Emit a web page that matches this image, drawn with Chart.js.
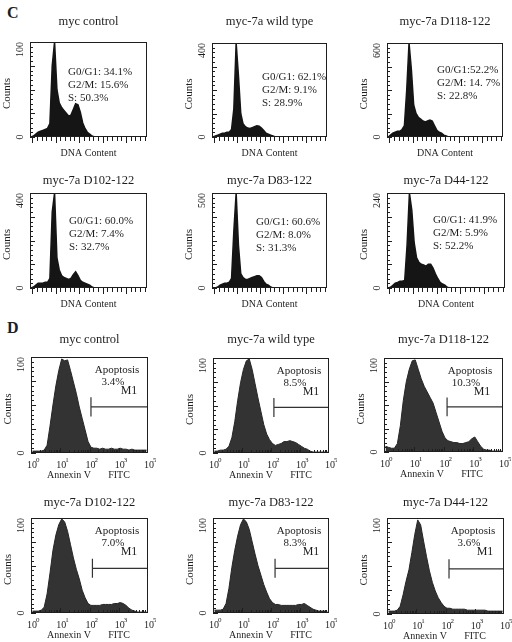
<!DOCTYPE html>
<html>
<head>
<meta charset="utf-8">
<script src="https://cdn.jsdelivr.net/npm/chart.js@4/dist/chart.umd.min.js"></script>
<style>
  body { margin: 0; background: #fff; }
  .figure { position: relative; width: 512px; height: 642px; overflow: hidden; font-family: "Liberation Serif", serif; color: #1e1e1e; }
  .panelLetter { position: absolute; font-weight: bold; font-size: 16px; line-height: 16px; }
  canvas { position: absolute; }
</style>
</head>
<body>
<div class="figure">
  <div class="panelLetter" style="left:7px;top:5px">C</div>
  <div class="panelLetter" style="left:7px;top:320px">D</div>
</div>
<script>
// panel C - cell cycle
const cycleTitles = ["myc control", "myc-7a wild type", "myc-7a D118-122", "myc-7a D102-122", "myc-7a D83-122", "myc-7a D44-122"]
const cycleYMax = [100, 400, 600, 400, 500, 240]
const cycleG1 = ["G0/G1: 34.1%", "G0/G1: 62.1%", "G0/G1:52.2%", "G0/G1: 60.0%", "G0/G1: 60.6%", "G0/G1: 41.9%"]
const cycleG2 = ["G2/M: 15.6%", "G2/M: 9.1%", "G2/M: 14. 7%", "G2/M: 7.4%", "G2/M: 8.0%", "G2/M: 5.9%"]
const cycleS = ["S: 50.3%", "S: 28.9%", "S: 22.8%", "S: 32.7%", "S: 31.3%", "S: 52.2%"]
const dnaBins = 50
// counts per DNA channel bin
const dnaCounts = [
  [0, 1, 3, 5, 6, 7, 8, 9, 14, 75, 100, 50, 36, 31, 28, 25, 22, 23, 29, 35, 34, 26, 15, 9, 5, 3, 1, 0],
  [0, 4, 8, 12, 16, 16, 20, 20, 32, 120, 400, 260, 100, 56, 44, 38, 36, 40, 44, 48, 46, 38, 28, 16, 12, 8, 4, 0],
  [0, 12, 24, 30, 36, 36, 48, 72, 300, 600, 432, 204, 150, 126, 114, 102, 96, 102, 108, 102, 72, 42, 30, 24, 12, 6, 0],
  [0, 4, 12, 20, 20, 20, 24, 24, 40, 320, 400, 128, 76, 52, 44, 40, 36, 40, 56, 68, 52, 32, 24, 20, 16, 12, 4, 0],
  [0, 0, 5, 15, 20, 25, 25, 30, 50, 300, 500, 225, 75, 55, 45, 45, 50, 55, 60, 65, 65, 55, 35, 20, 15, 5, 0],
  [0, 2, 7, 12, 14, 17, 17, 19, 108, 240, 197, 115, 77, 65, 60, 58, 55, 60, 60, 50, 36, 24, 14, 10, 7, 2, 0],
]

// panel D - annexin V
const apoTitles = ["myc control", "myc-7a wild type", "myc-7a D118-122", "myc-7a D102-122", "myc-7a D83-122", "myc-7a D44-122"]
const apoPct = ["3.4%", "8.5%", "10.3%", "7.0%", "8.3%", "3.6%"]
const m1Start = [2.05, 2.1, 2.12, 2.1, 2.14, 2.12]
const m1Level = [48, 48, 48, 47, 47, 47]
const decadeExp = ["0", "1", "2", "3", "5"]
// counts per 0.1 decade bin
const annexinCounts = [
  [2, 2, 2, 2, 3, 8, 28, 50, 70, 86, 98, 96, 97, 86, 74, 62, 48, 36, 24, 12, 6, 5, 5, 4, 5, 4, 4, 5, 4, 4, 5, 4, 4, 3, 4, 3, 3, 3, 3, 3],
  [2, 2, 3, 3, 4, 7, 16, 33, 55, 74, 88, 97, 99, 88, 73, 58, 44, 30, 20, 14, 10, 8, 9, 10, 12, 12, 13, 12, 11, 9, 7, 5, 4, 2, 1, 1, 1, 1, 1, 1],
  [6, 5, 4, 4, 9, 28, 55, 75, 88, 97, 98, 88, 78, 70, 64, 58, 52, 42, 32, 22, 15, 12, 11, 10, 10, 9, 9, 10, 11, 14, 16, 11, 6, 3, 2, 2, 1, 1, 1, 1],
  [2, 2, 2, 3, 6, 20, 42, 66, 82, 93, 99, 96, 86, 72, 58, 46, 36, 24, 16, 10, 8, 8, 8, 8, 9, 9, 9, 9, 10, 10, 11, 10, 8, 5, 3, 2, 1, 1, 1, 1],
  [3, 3, 3, 4, 10, 26, 48, 66, 81, 93, 99, 96, 88, 75, 62, 50, 40, 30, 22, 15, 11, 9, 9, 8, 8, 8, 8, 8, 8, 9, 9, 10, 8, 6, 4, 3, 2, 2, 2, 1],
  [3, 3, 3, 4, 8, 20, 34, 46, 64, 83, 98, 93, 76, 60, 45, 33, 24, 17, 12, 8, 6, 6, 5, 5, 5, 5, 5, 4, 4, 4, 4, 4, 4, 4, 3, 3, 3, 3, 3, 3],
]

// layout: plot box [left, top, right, bottom] and title centre line
const cycleBoxes = [
  [30, 42, 147, 137], [212, 43, 327, 137], [387, 43, 503, 137],
  [30, 193, 147, 288], [212, 193, 327, 288], [387, 193, 505, 288],
]
const cycleTitleY = [22, 22, 22, 181, 181, 181]
const cycleNotePos = [[38, 30], [50, 34], [50, 27], [39, 28], [44, 29], [46, 27]]
const apoBoxes = [
  [31, 357, 148, 453], [213, 358, 329, 453], [384, 358, 503, 452],
  [31, 518, 148, 613], [213, 518, 329, 613], [387, 518, 504, 614],
]
const apoTitleY = [340, 340, 340, 503, 503, 503]

const figure = document.querySelector(".figure")
const serif = (size) => `${size}px "Liberation Serif", serif`

const line = (ctx, x1, y1, x2, y2) => {
  ctx.beginPath()
  ctx.moveTo(x1, y1)
  ctx.lineTo(x2, y2)
  ctx.stroke()
}

const rotated = (ctx, text, x, y, align) => {
  ctx.save()
  ctx.translate(x, y)
  ctx.rotate(-Math.PI / 2)
  ctx.textAlign = align
  ctx.fillText(text, 0, 0)
  ctx.restore()
}

const panelDecor = {
  id: "panelDecor",
  afterDraw(chart, args, o) {
    const { ctx, chartArea: a } = chart
    const x = chart.scales.x
    const y = chart.scales.y
    const cx = (a.left + a.right) / 2
    ctx.save()
    ctx.fillStyle = "#1e1e1e"
    ctx.strokeStyle = "#1e1e1e"
    ctx.lineWidth = 1
    ctx.strokeRect(a.left + 0.5, a.top + 0.5, a.right - a.left - 1, a.bottom - a.top - 1)

    ctx.textBaseline = "middle"
    ctx.textAlign = "center"
    ctx.font = serif(12.5)
    ctx.fillText(o.title, cx, 10)

    ctx.font = serif(11)
    rotated(ctx, "Counts", a.left - 23, (a.top + a.bottom) / 2 + 4, "center")
    ctx.font = serif(10)
    rotated(ctx, String(o.yMax), a.left - 10, a.top, "right")
    rotated(ctx, "0", a.left - 10, a.bottom, "center")

    // small ticks on the inside of the left edge
    for (let k = 0; k <= 20; k++) {
      const py = Math.round(y.getPixelForValue((o.yMax * k) / 20)) + 0.5
      line(ctx, a.left, py, a.left + (k % 5 === 0 ? 5 : 3), py)
    }

    if (o.kind === "dna") {
      for (let k = 0; k < 25; k++) {
        const px = Math.round(x.getPixelForValue(1 + k * 2)) + 0.5
        line(ctx, px, a.bottom, px, a.bottom + (k % 5 === 0 ? 6 : 4))
      }
      ctx.font = serif(10)
      ctx.textAlign = "center"
      ctx.fillText("DNA Content", cx, a.bottom + 16)
      ctx.font = serif(11)
      ctx.textAlign = "left"
      o.notes.forEach((t, k) => ctx.fillText(t, a.left + o.notePos[0], a.top + o.notePos[1] + k * 13))
    } else {
      for (let d = 0; d < 4; d++) {
        for (let m = 1; m <= 9; m++) {
          const px = Math.round(x.getPixelForValue(d + Math.log10(m))) + 0.5
          line(ctx, px, a.bottom, px, a.bottom - (m === 1 ? 5 : 3))
        }
      }
      o.exps.forEach((e, d) => {
        const px = x.getPixelForValue(d)
        ctx.font = serif(10)
        ctx.textAlign = "center"
        ctx.fillText("10", px + 1, a.bottom + 12)
        ctx.font = serif(7)
        ctx.textAlign = "left"
        ctx.fillText(e, px + 5, a.bottom + 7)
      })
      ctx.font = serif(10)
      ctx.textAlign = "center"
      ctx.fillText("Annexin V", a.left + 38, a.bottom + 22)
      ctx.fillText("FITC", a.left + 88, a.bottom + 22)
      ctx.font = serif(11)
      ctx.fillText("Apoptosis", a.left + 86, a.top + 13)
      ctx.fillText(o.pct, a.left + 82, a.top + 25)
      ctx.font = serif(12)
      ctx.fillText("M1", a.left + 98, a.top + 34)
    }
    ctx.restore()
  },
}

const makePanel = (box, titleY, datasets, xMax, yMax, decor) => {
  const [L, T, R, B] = box
  const top = titleY - 10
  const canvas = document.createElement("canvas")
  canvas.width = R - L + 40
  canvas.height = B - top + 30
  canvas.style.left = `${L - 32}px`
  canvas.style.top = `${top}px`
  figure.appendChild(canvas)
  new Chart(canvas.getContext("2d"), {
    type: "line",
    data: { datasets },
    options: {
      responsive: false,
      animation: false,
      events: [],
      layout: { padding: { left: 32, top: T - top, right: 8, bottom: 30 } },
      elements: { point: { radius: 0 } },
      plugins: {
        legend: { display: false },
        tooltip: { enabled: false },
        panelDecor: { yMax, ...decor },
      },
      scales: {
        x: { type: "linear", display: false, min: 0, max: xMax },
        y: { display: false, min: 0, max: yMax },
      },
    },
    plugins: [panelDecor],
  })
}

cycleTitles.forEach((title, i) => {
  makePanel(
    cycleBoxes[i],
    cycleTitleY[i],
    [
      {
        data: dnaCounts[i].map((v, k) => ({ x: k + 0.5, y: v })),
        fill: "origin",
        backgroundColor: "#151515",
        borderColor: "#151515",
        borderWidth: 1.5,
      },
    ],
    dnaBins,
    cycleYMax[i],
    { kind: "dna", title, notes: [cycleG1[i], cycleG2[i], cycleS[i]], notePos: cycleNotePos[i] }
  )
})

apoTitles.forEach((title, i) => {
  const s = m1Start[i]
  const lv = m1Level[i]
  makePanel(
    apoBoxes[i],
    apoTitleY[i],
    [
      {
        data: annexinCounts[i].map((v, k) => ({ x: k * 0.1 + 0.05, y: v })),
        fill: "origin",
        backgroundColor: "#333333",
        borderColor: "#262626",
        borderWidth: 1,
      },
      {
        // M1 marker gate
        data: [{ x: s, y: lv + 10 }, { x: s, y: lv - 10 }, { x: s, y: lv }, { x: 4, y: lv }],
        fill: false,
        borderColor: "#333",
        borderWidth: 1.2,
      },
    ],
    4,
    100,
    { kind: "annexin", title, pct: apoPct[i], exps: decadeExp }
  )
})
</script>
</body>
</html>
